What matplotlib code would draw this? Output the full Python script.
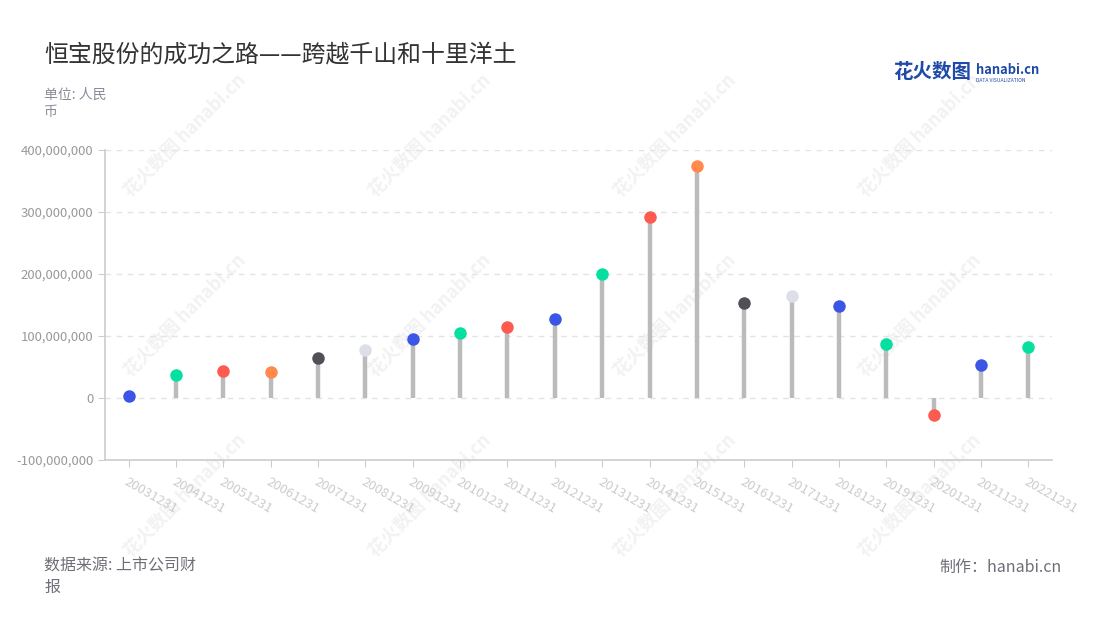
import matplotlib
matplotlib.use("Agg")
import matplotlib.pyplot as plt
from matplotlib.ticker import FuncFormatter

plt.rcParams["font.family"] = ["Noto Sans CJK SC", "DejaVu Sans"]

# annual net profit (RMB)
DATES = ["20031231", "20041231", "20051231", "20061231", "20071231",
         "20081231", "20091231", "20101231", "20111231", "20121231",
         "20131231", "20141231", "20151231", "20161231", "20171231",
         "20181231", "20191231", "20201231", "20211231", "20221231"]
PROFIT = [3.2e6, 36.6e6, 44.0e6, 42.5e6, 64.0e6,
          76.9e6, 94.6e6, 104.3e6, 114.5e6, 127.4e6,
          200.5e6, 292.0e6, 374.6e6, 152.7e6, 164.0e6,
          148.0e6, 87.0e6, -26.8e6, 52.7e6, 81.8e6]
DOT_COLORS = ["#3b55e6", "#05e0a0", "#ff5a50", "#ff8a4c", "#505059",
              "#dcdfe8", "#3b55e6", "#05e0a0", "#ff5a50"]

TITLE = "恒宝股份的成功之路——跨越千山和十里洋土"
UNIT = "单位: 人民\n币"
SOURCE = "数据来源: 上市公司财\n报"
MAKER = "制作：hanabi.cn"

fig = plt.figure(figsize=(11, 6.2), dpi=100)
ax = fig.add_axes([105 / 1100, 1 - 460 / 620, 947 / 1100, 310 / 620])
ax.set_zorder(1)

# faint watermarks behind the plot
for wx in [185, 430, 675, 920]:
    for wy in [135, 315, 495]:
        fig.text(wx / 1100, 1 - wy / 620, "花火数图 hanabi.cn", rotation=45,
                 ha="center", va="center", fontsize=13, fontweight="bold",
                 color="#f2f2f2", zorder=-5)

xs = range(len(DATES))
for i, v in enumerate(PROFIT):
    ax.plot([i, i], [0, v], color="#bbbbbb", lw=3.2, solid_capstyle="butt", zorder=2)
    ax.plot(i, v, "o", ms=9, color=DOT_COLORS[i % len(DOT_COLORS)],
            markeredgewidth=0, zorder=3)

ax.set_xlim(-0.5, len(DATES) - 0.5)
ax.set_ylim(-100e6, 400e6)
ax.set_yticks([-100e6, 0, 100e6, 200e6, 300e6, 400e6])
ax.yaxis.set_major_formatter(FuncFormatter(lambda v, p: f"{int(v):,}"))
ax.set_xticks(list(xs))
ax.set_xticklabels(DATES, rotation=-30, ha="left", va="top",
                   rotation_mode="anchor", color="#b4b9c8", fontsize=9.5)
ax.tick_params(axis="y", colors="#cccccc", labelcolor="#999999", labelsize=9.5, length=5)
ax.tick_params(axis="x", colors="#cccccc", length=5, pad=6)
ax.grid(axis="y", color="#e3e3e3", linestyle=(0, (4, 4)), lw=1)
ax.set_axisbelow(True)
for s in ["top", "right"]:
    ax.spines[s].set_visible(False)
for s in ["left", "bottom"]:
    ax.spines[s].set_color("#cccccc")
    ax.spines[s].set_linewidth(1.2)
ax.patch.set_alpha(0)

fig.text(44 / 1100, 1 - 55 / 620, TITLE, fontsize=17.2, color="#333333",
         ha="left", va="center")
fig.text(44 / 1100, 1 - 88 / 620, UNIT, fontsize=10, color="#8c8c99",
         ha="left", va="top", linespacing=1.3)
fig.text(44 / 1100, 1 - 557 / 620, SOURCE, fontsize=11.5, color="#6e6e78",
         ha="left", va="top", linespacing=1.35)
fig.text(1062 / 1100, 1 - 567 / 620, MAKER, fontsize=11.5, color="#6e6e78",
         ha="right", va="center")

# logo
fig.text(893 / 1100, 1 - 73 / 620, "花火数图", fontsize=14, fontweight="bold",
         color="#1f4aa8", ha="left", va="center")
fig.text(976 / 1100, 1 - 70 / 620, "hanabi.cn", fontsize=9.3, fontweight="bold",
         color="#1f4aa8", ha="left", va="center")
fig.text(976 / 1100, 1 - 80 / 620, "DATA VISUALIZATION", fontsize=3.6,
         color="#1f4aa8", ha="left", va="center")

fig.savefig("out.png", dpi=100)
